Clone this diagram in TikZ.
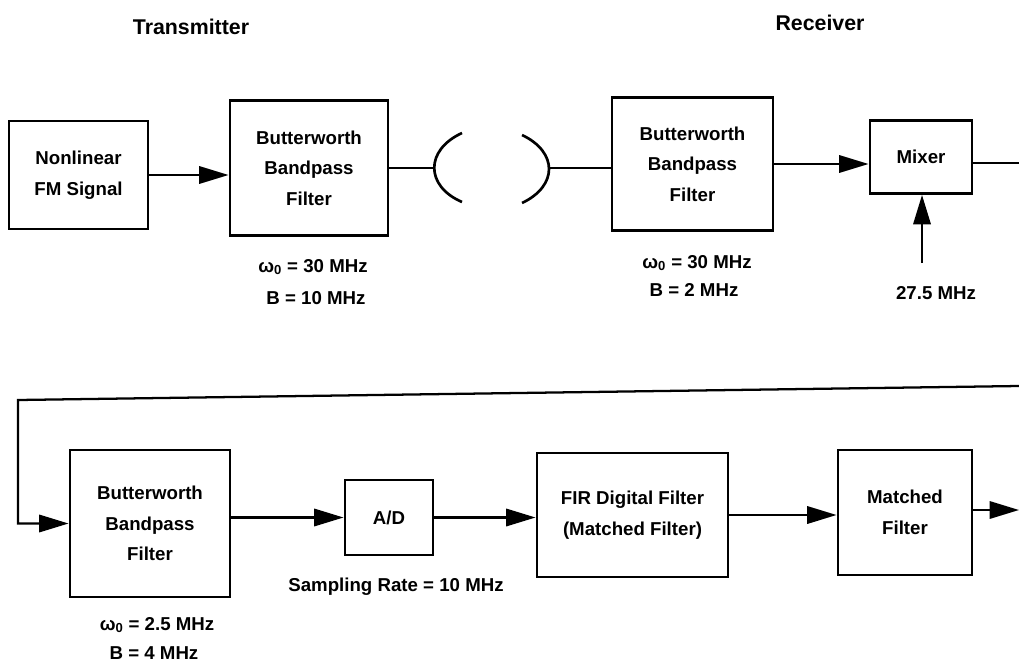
\documentclass[tikz,border=0pt]{standalone}
\usepackage{fontspec}
\setmainfont{Liberation Sans}
\usetikzlibrary{arrows.meta}
\tikzset{
  blk/.style={draw, line width=2.2pt, align=center, inner sep=0pt,
    font=\bfseries\fontsize{14}{23}\selectfont},
  lbl/.style={inner sep=0pt, font=\bfseries\fontsize{14}{16}\selectfont},
  ttl/.style={inner sep=0pt, font=\bfseries\fontsize{16}{19}\selectfont},
  conn/.style={line width=1.7pt},
  arr/.style={conn, -{Triangle[length=22pt,width=13pt]}},
  ant/.style={line width=2pt},
}
\begin{document}
\begin{tikzpicture}[x=0.75pt,y=-0.75pt]
\useasboundingbox (0,0) rectangle (1019,663);

% titles
\node[ttl] (tx) at (191,27) {Transmitter};
\node[ttl] (rx) at (820,23) {Receiver};

% top row
\node[blk, minimum width=104.25pt, minimum height=81pt] (nl) at (78.5,175) {Nonlinear\\FM Signal};
\node[blk, minimum width=118.5pt, minimum height=101.25pt] (bw1) at (309,168) {Butterworth\\Bandpass\\Filter};
\node[blk, minimum width=120.75pt, minimum height=99.75pt] (bw2) at (692.5,164) {Butterworth\\Bandpass\\Filter};
\node[blk, minimum width=76.5pt, minimum height=54.75pt] (mix) at (921,157) {Mixer};

\node[lbl] (w1) at (313,267) {ω\textsubscript{0} = 30 MHz};
\node[lbl] (b1) at (316,298) {B = 10 MHz};
\node[lbl] (w2) at (697,263) {ω\textsubscript{0} = 30 MHz};
\node[lbl] (b2) at (694,290) {B = 2 MHz};
\node[lbl] (lol) at (936,293) {27.5 MHz};

% antennas
\coordinate (antL) at (434,168);
\coordinate (antR) at (549,168);
\draw[ant] (462,133) .. controls (425,150) and (425,186) .. (462,202);
\draw[ant] (522,135) .. controls (558,152) and (558,186) .. (522,203);

\coordinate (lo) at (922,263);
\coordinate (mixout) at (1019,163);

\draw[arr] (nl.east) -- (nl.east -| bw1.west);
\draw[conn] (bw1.east |- antL) -- (antL);
\draw[conn] (antR) -- (antR -| bw2.west);
\draw[arr] (bw2.east) -- (bw2.east -| mix.west);
\draw[conn] (mixout -| mix.east) -- (mixout);
\draw[arr] (lo) -- (lo |- mix.south);

% bottom row
\node[blk, minimum width=120pt, minimum height=110.25pt] (bw3) at (150,523.5) {Butterworth\\Bandpass\\Filter};
\node[blk, minimum width=66pt, minimum height=56.25pt] (ad) at (389,517.5) {A/D};
\node[blk, minimum width=143.25pt, minimum height=93pt] (fir) at (632.5,515) {FIR Digital Filter\\(Matched Filter)};
\node[blk, minimum width=100.5pt, minimum height=93.75pt] (mf) at (905,512.5) {Matched\\Filter};

\node[lbl] (sr) at (396,587) {Sampling Rate = 10 MHz};
\node[lbl] (w3) at (157,625) {ω\textsubscript{0} = 2.5 MHz};
\node[lbl] (b3) at (154,653) {B = 4 MHz};

\coordinate (fbR) at (1019,386);
\coordinate (fbL) at (18,400);
\coordinate (out) at (1019,510);

\draw[arr] (fbR) -- (fbL) -- (fbL |- bw3.west) -- (bw3.west);
\draw[arr] (bw3.east |- ad.west) -- (ad.west);
\draw[arr] (ad.east) -- (ad.east -| fir.west);
\draw[arr] (fir.east) -- (fir.east -| mf.west);
\draw[arr] (mf.east |- out) -- (out);
\end{tikzpicture}
\end{document}
